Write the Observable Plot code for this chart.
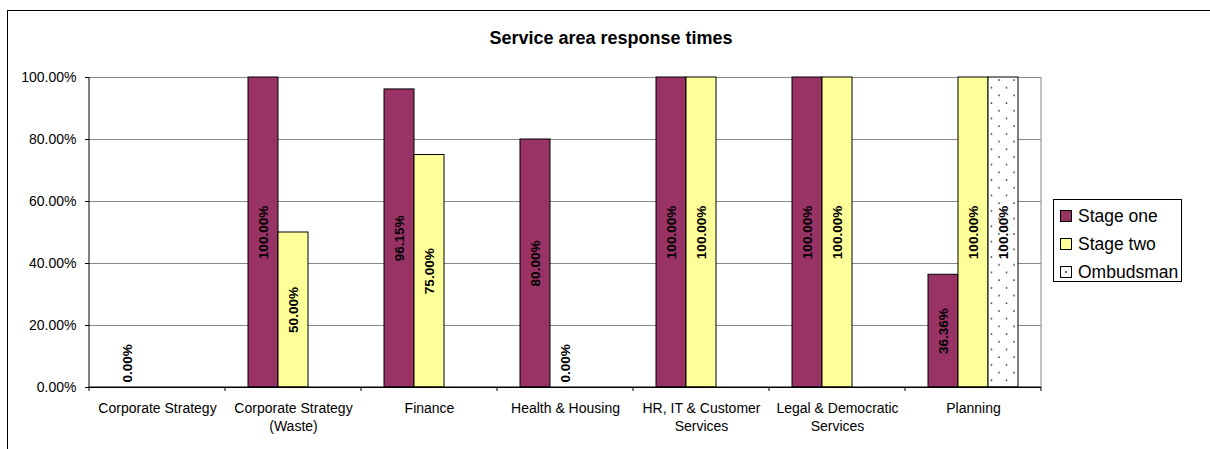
<!DOCTYPE html>
<html>
<head>
<meta charset="utf-8">
<script src="https://cdn.jsdelivr.net/npm/d3@7"></script>
<script src="https://cdn.jsdelivr.net/npm/@observablehq/plot@0.6"></script>
<style>
  body { margin: 0; background: #fff; font-family: "Liberation Sans", Arial, sans-serif; }
  #wrap { position: relative; width: 1210px; height: 449px; overflow: hidden; background: #fff; }
  #chart { position: absolute; left: 0; top: 0; }
  #border { position: absolute; left: 7px; top: 10px; width: 1400px; height: 600px; border-top: 1px solid #000; border-left: 1px solid #000; pointer-events: none; }
  #title { position: absolute; left: 411px; top: 27px; width: 400px; text-align: center; font-weight: bold; font-size: 18px; line-height: 22px; color: #000; }
  #legend { position: absolute; left: 1053px; top: 199px; width: 127px; height: 81px; border: 1px solid #000; background: #fff; }
  .item { position: absolute; left: 6px; height: 22px; display: flex; align-items: center; font-size: 17.5px; color: #000; white-space: nowrap; }
  .sw { width: 10px; height: 10px; border: 1px solid #000; margin-right: 6px; box-sizing: content-box; position: relative; }
</style>
</head>
<body>
<div id="wrap">
  <div id="chart"></div>
  <div id="border"></div>
  <div id="title"></div>
  <div id="legend"></div>
</div>
<script>
const chartTitle = "Service area response times";
const categories = ["Corporate Strategy", "Corporate Strategy (Waste)", "Finance", "Health & Housing", "HR, IT & Customer Services", "Legal & Democratic Services", "Planning"];
const categoryLabels = ["Corporate Strategy", "Corporate Strategy\n(Waste)", "Finance", "Health & Housing", "HR, IT & Customer\nServices", "Legal & Democratic\nServices", "Planning"];
const seriesNames = ["Stage one", "Stage two", "Ombudsman"];
const seriesColors = ["#993366", "#FFFF99", "url(#dots)"];
const stageOne = [0, 1.0, 0.9615, 0.80, 1.0, 1.0, 0.3636];
const stageTwo = [null, 0.50, 0.75, 0, 1.0, 1.0, 1.0];
const ombudsman = [null, null, null, null, null, null, 1.0];
const yTicks = [0, 0.2, 0.4, 0.6, 0.8, 1.0];

const fmt = d3.format(".2%");
const rows = [];
[stageOne, stageTwo, ombudsman].forEach((vals, s) => {
  vals.forEach((v, i) => {
    if (v != null) rows.push({category: categories[i], series: seriesNames[s], value: v});
  });
});

const font = '"Liberation Sans", Arial, sans-serif';

const barMarks = seriesNames.map((name, s) =>
  Plot.barY(rows.filter(d => d.series === name), {
    fx: "category", x: "series", y: "value",
    fill: seriesColors[s], stroke: "#000", strokeWidth: 1
  })
);

const plot = Plot.plot({
  width: 1210,
  height: 449,
  marginLeft: 89,
  marginRight: 169,
  marginTop: 77,
  marginBottom: 62,
  style: {fontFamily: font, fontSize: "14px", background: "transparent", color: "#000", overflow: "visible"},
  fx: {domain: categories, padding: 0, label: null},
  x: {domain: seriesNames, paddingInner: 0, paddingOuter: 0.74, axis: null},
  y: {domain: [0, 1], label: null},
  marks: [
    Plot.gridY(yTicks, {stroke: "#888", strokeOpacity: 1}),
    ...barMarks,
    Plot.ruleY([0], {stroke: "#000"}),
    Plot.text(rows.filter(d => d.value > 0), {
      fx: "category", x: "series", y: d => d.value / 2, text: d => fmt(d.value),
      rotate: -90, fontWeight: "bold", fontSize: 13.5, fill: "#000"
    }),
    Plot.text(rows.filter(d => d.value === 0), {
      fx: "category", x: "series", y: 0, text: d => fmt(d.value),
      rotate: -90, textAnchor: "start", dy: -5, fontWeight: "bold", fontSize: 13.5, fill: "#000"
    }),
    Plot.axisY(yTicks, {tickSize: 4, tickPadding: 9, tickFormat: fmt, fontSize: 14, label: null}),
    Plot.axisFx({anchor: "bottom", tickSize: 0, tickPadding: 13, fontSize: 14, lineHeight: 1.28, label: null,
      tickFormat: c => categoryLabels[categories.indexOf(c)]})
  ]
});

document.getElementById("chart").appendChild(plot);

// pattern for Ombudsman fill
const svg = d3.select(plot);
const defs = svg.insert("defs", ":first-child");
const pat = defs.append("pattern").attr("id", "dots").attr("patternUnits", "userSpaceOnUse")
  .attr("width", 15).attr("height", 15.4);
pat.append("rect").attr("width", 15).attr("height", 15.4).attr("fill", "#fff");
pat.append("circle").attr("cx", 3).attr("cy", 3).attr("r", 0.9).attr("fill", "#333");
pat.append("circle").attr("cx", 10.5).attr("cy", 10.7).attr("r", 0.9).attr("fill", "#333");

// axis lines, plot-area border and category boundary ticks from the library's scales
const fxs = plot.scale("fx");
const ys = plot.scale("y");
const x0 = fxs.apply(categories[0]);
const x1 = fxs.apply(categories[categories.length - 1]) + fxs.bandwidth;
const yb = ys.apply(0), yt = ys.apply(1);
const g = svg.append("g");
g.append("line").attr("x1", x1).attr("x2", x1).attr("y1", yt).attr("y2", yb).attr("stroke", "#888");
g.append("line").attr("x1", x0).attr("x2", x0).attr("y1", yt).attr("y2", yb).attr("stroke", "#000");
g.append("line").attr("x1", x0).attr("x2", x1).attr("y1", yb).attr("y2", yb).attr("stroke", "#000");
categories.concat([null]).forEach((c, i) => {
  const xx = c == null ? x1 : fxs.apply(c);
  g.append("line").attr("x1", xx).attr("x2", xx).attr("y1", yb).attr("y2", yb + 4).attr("stroke", "#000");
});

// title
document.getElementById("title").textContent = chartTitle;

// legend
const legend = document.getElementById("legend");
seriesNames.forEach((name, s) => {
  const item = document.createElement("div");
  item.className = "item";
  item.style.top = (5 + s * 28) + "px";
  const sw = document.createElement("div");
  sw.className = "sw";
  if (s < 2) {
    sw.style.background = seriesColors[s];
  } else {
    sw.style.background = "#fff";
    const dot = document.createElement("div");
    dot.style.cssText = "position:absolute;left:4px;top:4px;width:2px;height:2px;background:#333;border-radius:1px;";
    sw.appendChild(dot);
  }
  item.appendChild(sw);
  item.appendChild(document.createTextNode(name));
  legend.appendChild(item);
});
</script>
</body>
</html>
